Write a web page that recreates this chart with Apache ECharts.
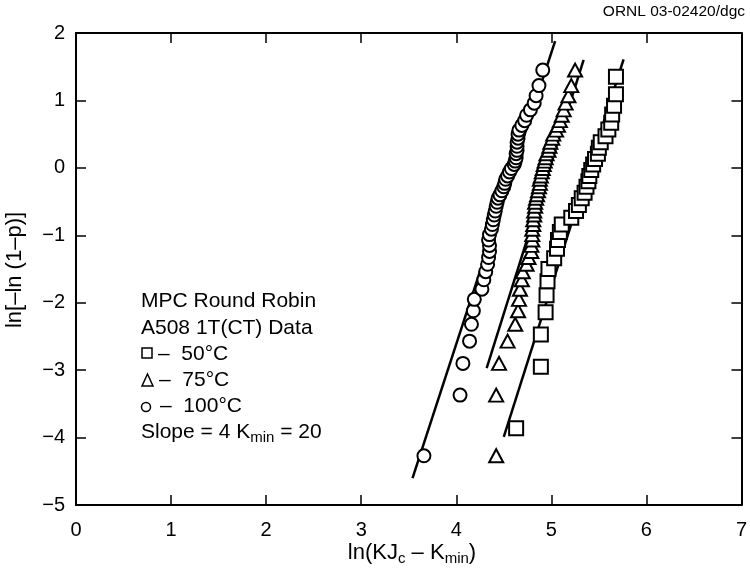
<!DOCTYPE html>
<html>
<head>
<meta charset="utf-8">
<script src="https://cdn.jsdelivr.net/npm/echarts@6/dist/echarts.min.js"></script>
<style>
html,body{margin:0;padding:0;background:#fff;}
#chart{width:750px;height:576px;}
</style>
</head>
<body>
<div id="chart"></div>
<script>
// ---- data ----
var xTicks = [0, 1, 2, 3, 4, 5, 6, 7];
var yTicks = [-5, -4, -3, -2, -1, 0, 1, 2];

// -50°C (squares)
var sqX = [4.63, 4.89, 4.89, 4.94, 4.95, 4.96, 4.97, 5.03, 5.06, 5.07, 5.09, 5.11, 5.21, 5.26, 5.29, 5.32, 5.35, 5.37, 5.39, 5.40, 5.42, 5.44, 5.46, 5.49, 5.50, 5.52, 5.57, 5.60, 5.63, 5.64, 5.66, 5.68, 5.68];
var sqY = [-3.86, -2.95, -2.47, -2.14, -1.89, -1.68, -1.50, -1.34, -1.20, -1.07, -0.95, -0.84, -0.74, -0.64, -0.55, -0.45, -0.37, -0.28, -0.20, -0.12, -0.03, 0.05, 0.13, 0.21, 0.30, 0.38, 0.47, 0.57, 0.67, 0.79, 0.92, 1.09, 1.35];

// -75°C (triangles)
var triX = [4.42, 4.42, 4.45, 4.54, 4.62, 4.65, 4.66, 4.67, 4.69, 4.70, 4.74, 4.76, 4.79, 4.79, 4.80, 4.80, 4.80, 4.81, 4.81, 4.82, 4.82, 4.83, 4.83, 4.84, 4.85, 4.86, 4.87, 4.88, 4.88, 4.89, 4.90, 4.91, 4.92, 4.93, 4.94, 4.95, 4.97, 4.98, 4.99, 5.01, 5.02, 5.05, 5.07, 5.09, 5.11, 5.13, 5.15, 5.18, 5.21, 5.25];
var triY = [-4.27, -3.37, -2.90, -2.57, -2.32, -2.12, -1.95, -1.80, -1.66, -1.54, -1.43, -1.33, -1.24, -1.15, -1.07, -0.99, -0.91, -0.84, -0.77, -0.70, -0.64, -0.57, -0.51, -0.45, -0.40, -0.34, -0.28, -0.23, -0.17, -0.12, -0.06, -0.01, 0.05, 0.10, 0.15, 0.21, 0.26, 0.32, 0.38, 0.44, 0.50, 0.56, 0.63, 0.70, 0.78, 0.86, 0.96, 1.07, 1.22, 1.45];

// -100°C (circles)
var cirX = [3.66, 4.04, 4.07, 4.14, 4.16, 4.18, 4.19, 4.27, 4.29, 4.31, 4.33, 4.34, 4.35, 4.35, 4.34, 4.35, 4.37, 4.38, 4.39, 4.40, 4.41, 4.42, 4.43, 4.44, 4.46, 4.48, 4.50, 4.51, 4.52, 4.54, 4.56, 4.58, 4.61, 4.62, 4.63, 4.63, 4.64, 4.64, 4.64, 4.65, 4.65, 4.66, 4.69, 4.72, 4.74, 4.78, 4.82, 4.84, 4.87, 4.91];
var cirY = [-4.27, -3.37, -2.90, -2.57, -2.32, -2.12, -1.95, -1.80, -1.66, -1.54, -1.43, -1.33, -1.24, -1.15, -1.07, -0.99, -0.91, -0.84, -0.77, -0.70, -0.64, -0.57, -0.51, -0.45, -0.40, -0.34, -0.28, -0.23, -0.17, -0.12, -0.06, -0.01, 0.05, 0.10, 0.15, 0.21, 0.26, 0.32, 0.38, 0.44, 0.50, 0.56, 0.63, 0.70, 0.78, 0.86, 0.96, 1.07, 1.22, 1.45];

// fitted lines (end points)
var fitSqX = [4.50, 5.76];
var fitSqY = [-3.99, 1.61];
var fitTriX = [4.32, 5.34];
var fitTriY = [-2.97, 1.60];
var fitCirX = [3.54, 5.04];
var fitCirY = [-4.60, 1.88];

var legendLines = ['MPC Round Robin', 'A508 1T(CT) Data', '\u2013  50\u00b0C', '\u2013  75\u00b0C', '\u2013  100\u00b0C'];

function zip(a, b) { return a.map(function (v, i) { return [v, b[i]]; }); }

var FONT = '"Liberation Sans", Arial, Helvetica, sans-serif';
var chart = echarts.init(document.getElementById('chart'), null, {renderer: 'canvas'});

var markerStyle = {color: '#fff', borderColor: '#000', borderWidth: 2, opacity: 1};
var lineStyle = {color: '#000', width: 2.5};

function minusFmt(v) { return String(v).replace('-', '\u2212'); }

var LX = 141;
var LFS = 21;
var rowY = [301, 328, 354, 380, 406, 432];

var option = {
  backgroundColor: '#fff',
  animation: false,
  grid: {left: 76, right: 1, top: 33, bottom: 71},
  xAxis: [{
    type: 'value', min: 0, max: 7, interval: 1, position: 'bottom',
    axisLine: {show: true, onZero: false, lineStyle: {color: '#000', width: 2}},
    axisTick: {show: true, inside: true, length: 10, lineStyle: {color: '#000', width: 1.5}},
    axisLabel: {color: '#000', fontSize: 20, fontFamily: FONT, margin: 15},
    splitLine: {show: false}
  }, {
    type: 'value', min: 0, max: 7, interval: 1, position: 'top',
    axisLine: {show: true, onZero: false, lineStyle: {color: '#000', width: 2}},
    axisTick: {show: true, inside: true, length: 10, lineStyle: {color: '#000', width: 1.5}},
    axisLabel: {show: false}, splitLine: {show: false}
  }],
  yAxis: [{
    type: 'value', min: -5, max: 2, interval: 1, position: 'left',
    axisLine: {show: true, onZero: false, lineStyle: {color: '#000', width: 2}},
    axisTick: {show: true, inside: true, length: 10, lineStyle: {color: '#000', width: 1.5}},
    axisLabel: {color: '#000', fontSize: 20, fontFamily: FONT, margin: 11, formatter: minusFmt},
    splitLine: {show: false}
  }, {
    type: 'value', min: -5, max: 2, interval: 1, position: 'right',
    axisLine: {show: true, onZero: false, lineStyle: {color: '#000', width: 2}},
    axisTick: {show: true, inside: true, length: 10, lineStyle: {color: '#000', width: 1.5}},
    axisLabel: {show: false}, splitLine: {show: false}
  }],
  series: [
    {type: 'line', data: zip(fitCirX, fitCirY), showSymbol: false, symbol: 'none', lineStyle: lineStyle, z: 2},
    {type: 'line', data: zip(fitTriX, fitTriY), showSymbol: false, symbol: 'none', lineStyle: lineStyle, z: 2},
    {type: 'line', data: zip(fitSqX, fitSqY), showSymbol: false, symbol: 'none', lineStyle: lineStyle, z: 2},
    {type: 'scatter', data: zip(cirX, cirY), symbol: 'circle', symbolSize: 13, itemStyle: markerStyle, z: 3},
    {type: 'scatter', data: zip(triX, triY), symbol: 'triangle', symbolSize: [14, 13], itemStyle: markerStyle, z: 3},
    {type: 'scatter', data: zip(sqX, sqY), symbol: 'rect', symbolSize: 14, itemStyle: markerStyle, z: 3}
  ],
  graphic: [
    {type: 'text', right: 5, top: 4, style: {text: 'ORNL 03-02420/dgc', font: '15.5px "Liberation Sans Narrow", "Liberation Sans", Arial, sans-serif', fill: '#000'}},
    {type: 'text', x: 15, y: 270, rotation: Math.PI / 2, style: {text: 'ln[\u2013ln (1\u2013p)]', fontSize: 22, fontFamily: FONT, fill: '#000', align: 'center', verticalAlign: 'middle'}},
    {type: 'text', x: 412, y: 553, style: {
      text: 'ln(KJ{s|c} \u2013 K{s|min})', fontSize: 22, fontFamily: FONT, fill: '#000', align: 'center', verticalAlign: 'middle',
      rich: {s: {fontSize: 15, fontFamily: FONT, fill: '#000', padding: [12, 0, 0, 0]}}
    }},
    {type: 'text', x: LX, y: rowY[0], style: {text: legendLines[0], fontSize: LFS, fontFamily: FONT, fill: '#000', verticalAlign: 'middle'}},
    {type: 'text', x: LX, y: rowY[1], style: {text: legendLines[1], fontSize: LFS, fontFamily: FONT, fill: '#000', verticalAlign: 'middle'}},
    {type: 'rect', shape: {x: LX + 1, y: rowY[2] - 6, width: 10, height: 10}, style: {fill: 'none', stroke: '#000', lineWidth: 1.5}},
    {type: 'text', x: LX + 17, y: rowY[2], style: {text: legendLines[2], fontSize: LFS, fontFamily: FONT, fill: '#000', verticalAlign: 'middle'}},
    {type: 'polygon', shape: {points: [[LX + 1, rowY[3] + 6], [LX + 12, rowY[3] + 6], [LX + 6.5, rowY[3] - 6]]}, style: {fill: 'none', stroke: '#000', lineWidth: 1.5}},
    {type: 'text', x: LX + 18, y: rowY[3], style: {text: legendLines[3], fontSize: LFS, fontFamily: FONT, fill: '#000', verticalAlign: 'middle'}},
    {type: 'circle', shape: {cx: LX + 5, cy: rowY[4] + 1, r: 4.5}, style: {fill: 'none', stroke: '#000', lineWidth: 1.5}},
    {type: 'text', x: LX + 19, y: rowY[4], style: {text: legendLines[4], fontSize: LFS, fontFamily: FONT, fill: '#000', verticalAlign: 'middle'}},
    {type: 'text', x: LX, y: rowY[5], style: {
      text: 'Slope = 4 K{s|min} = 20', fontSize: LFS, fontFamily: FONT, fill: '#000', verticalAlign: 'middle',
      rich: {s: {fontSize: 15, fontFamily: FONT, fill: '#000', padding: [12, 0, 0, 0]}}
    }}
  ]
};
chart.setOption(option);
</script>
</body>
</html>
